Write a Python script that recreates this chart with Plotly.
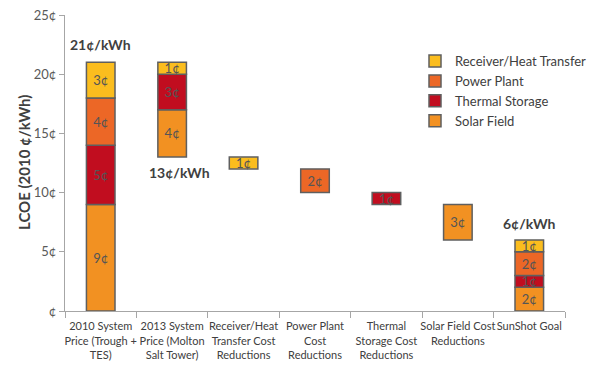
import plotly.graph_objects as go

categories = ["2010 System<br>Price (Trough +<br>TES)", "2013 System<br>Price (Molton<br>Salt Tower)",
              "Receiver/Heat<br>Transfer Cost<br>Reductions", "Power Plant<br>Cost<br>Reductions",
              "Thermal<br>Storage Cost<br>Reductions", "Solar Field Cost<br>Reductions", "SunShot Goal"]

solar_vals = [9, 4, None, None, None, 3, 2]
solar_base = [0, 13, None, None, None, 6, 0]
thermal_vals = [5, 3, None, None, 1, None, 1]
thermal_base = [9, 17, None, None, 9, None, 2]
power_vals = [4, None, None, 2, None, None, 2]
power_base = [14, None, None, 10, None, None, 3]
receiver_vals = [3, 1, 1, None, None, None, 1]
receiver_base = [18, 20, 12, None, None, None, 5]

totals_text = ["21¢/kWh", "13¢/kWh", "6¢/kWh"]
totals_pos = [(0, 22.5, 0), (1, 11.7, 7), (6, 7.4, 0)]

y_ticks = [0, 5, 10, 15, 20, 25]
y_ticktext = ["¢", "5¢", "10¢", "15¢", "20¢", "25¢"]

series = [
    ("Solar Field", solar_vals, solar_base, "#F29122"),
    ("Thermal Storage", thermal_vals, thermal_base, "#C10D1F"),
    ("Power Plant", power_vals, power_base, "#EC6726"),
    ("Receiver/Heat Transfer", receiver_vals, receiver_base, "#FBBD1E"),
]

FONT = "Lato"
fig = go.Figure()
for name, vals, base, color in series:
    fig.add_trace(go.Bar(
        x=categories, y=vals, base=base, name=name,
        marker=dict(color=color, line=dict(color="#5f5f5f", width=1.5)),
        width=0.4, opacity=1,
        text=[f"{v}¢" if v is not None else "" for v in vals],
        textposition="inside", insidetextanchor="middle", textangle=0,
        textfont=dict(color="#555555", size=13, family=FONT),
        constraintext="none", cliponaxis=False,
    ))

for txt, (ci, yv, xs) in zip(totals_text, totals_pos):
    fig.add_annotation(x=categories[ci], y=yv, text=f"<b>{txt}</b>", showarrow=False, xshift=xs,
                       font=dict(size=14, color="#404040", family=FONT))

fig.add_annotation(xref="paper", yref="paper", x=-0.082, y=0.5, text="<b>LCOE (2010 ¢/kWh)</b>",
                   textangle=-90, showarrow=False, xanchor="center", yanchor="middle",
                   font=dict(size=15, color="#404040", family=FONT))

fig.update_layout(
    width=603, height=377,
    margin=dict(l=65, r=11, t=15, b=66),
    barmode="overlay",
    uniformtext=dict(minsize=13, mode="show"),
    plot_bgcolor="white", paper_bgcolor="white",
    font=dict(family=FONT, color="#404040"),
    legend=dict(x=0.70, y=0.895, xanchor="left", yanchor="top", traceorder="reversed",
                font=dict(size=13, color="#404040", family=FONT), bgcolor="rgba(0,0,0,0)",
                tracegroupgap=0, itemwidth=30),
    xaxis=dict(showline=True, linecolor="#a6a6a6", linewidth=1, ticks="outside",
               tickson="boundaries", tickcolor="#a6a6a6", ticklen=6, tickangle=0, automargin=False,
               ticklabelstandoff=5,
               tickfont=dict(size=11, color="#404040", family=FONT), showgrid=False,
               range=[-0.5, 6.5]),
    yaxis=dict(range=[0, 25], tickvals=y_ticks, ticktext=y_ticktext, showline=True, automargin=False,
               linecolor="#a6a6a6", linewidth=1, ticks="outside", tickcolor="#a6a6a6", ticklen=5,
               tickfont=dict(size=13, color="#595959", family=FONT), showgrid=False, zeroline=False),
)

fig.write_html("out.html")
